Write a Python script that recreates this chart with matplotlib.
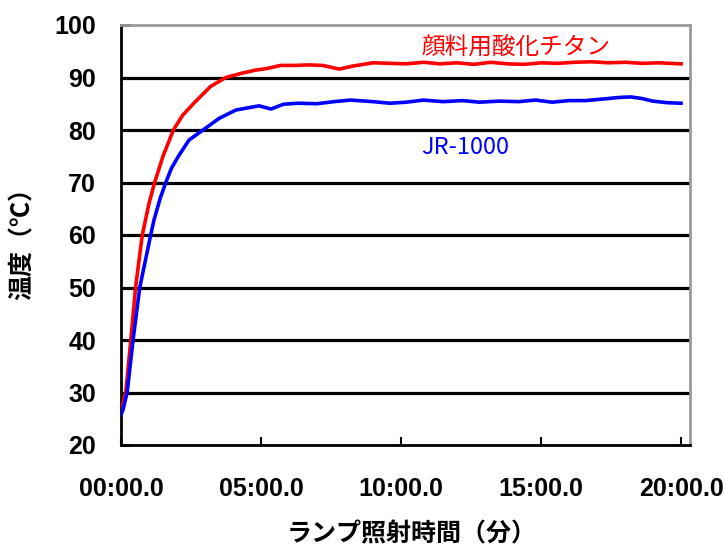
import matplotlib.pyplot as plt

# 経過時間(分)と温度(℃)
t_red = [0, 0.08, 0.17, 0.35, 0.52, 0.76, 1.0, 1.2, 1.5, 1.87, 2.2, 2.6, 3.2, 3.74,
         4.3, 4.8, 5.2, 5.7, 6.2, 6.7, 7.2, 7.8, 8.3, 9.0, 9.6, 10.2, 10.8, 11.4, 12.0,
         12.6, 13.2, 13.8, 14.4, 15.0, 15.6, 16.2, 16.8, 17.4, 18.0, 18.6, 19.2, 20.0]
y_red = [27, 28.2, 30, 40, 50, 60, 66, 70, 75, 80, 82.8, 85.1, 88.3, 90,
         90.8, 91.4, 91.7, 92.3, 92.3, 92.4, 92.3, 91.6, 92.2, 92.8, 92.7, 92.6, 92.9, 92.6, 92.8,
         92.5, 92.9, 92.6, 92.5, 92.8, 92.7, 92.9, 93.0, 92.8, 92.9, 92.7, 92.8, 92.6]

t_blue = [0, 0.07, 0.22, 0.43, 0.67, 1.06, 1.18, 1.4, 1.6, 1.8, 2.05, 2.43, 2.93, 3.5,
          4.1, 4.93, 5.36, 5.8, 6.3, 7.0, 7.6, 8.2, 9.0, 9.6, 10.2, 10.8, 11.5, 12.2, 12.8,
          13.5, 14.2, 14.8, 15.4, 16.0, 16.6, 17.2, 17.8, 18.2, 18.6, 19.0, 19.5, 20.0]
y_blue = [25.7, 26.7, 30, 40, 50, 60, 62.9, 67, 70, 72.7, 75, 78.1, 80, 82.2,
          83.8, 84.6, 84.0, 84.9, 85.1, 85.0, 85.4, 85.7, 85.4, 85.1, 85.3, 85.7, 85.4, 85.6, 85.3,
          85.5, 85.4, 85.7, 85.3, 85.6, 85.6, 85.9, 86.2, 86.3, 86.0, 85.5, 85.2, 85.1]

xticks = [0, 5, 10, 15, 20]
xticklabels = ['00:00.0', '05:00.0', '10:00.0', '15:00.0', '20:00.0']
yticks = [20, 30, 40, 50, 60, 70, 80, 90, 100]

jp = ['Noto Sans CJK JP', 'DejaVu Sans']

fig = plt.figure(figsize=(7.24, 5.5), dpi=100)
ax = fig.add_axes([121/724, 105/550, 569/724, 420/550])

# 目盛線
for v in yticks[1:-1]:
    ax.axhline(v, color='black', lw=2.3, zorder=1)

ax.plot(t_red, y_red, color='#ff0000', lw=2.6, zorder=3)
ax.plot(t_blue, y_blue, color='#0000ff', lw=2.6, zorder=3)

ax.set_xlim(0, 20.32)
ax.set_ylim(20, 100)
ax.set_xticks(xticks)
ax.set_xticklabels(xticklabels)
ax.set_yticks(yticks)

for lab in ax.get_xticklabels() + ax.get_yticklabels():
    lab.set_family('Liberation Sans')
    lab.set_fontweight('bold')
    lab.set_fontsize(18)

ax.tick_params(axis='x', direction='in', length=6, width=1.5, pad=23)
ax.tick_params(axis='y', direction='in', length=7, width=2, pad=18)

for s in ['left', 'bottom']:
    ax.spines[s].set_color('black')
    ax.spines[s].set_linewidth(2)
for s in ['top', 'right']:
    ax.spines[s].set_color('#999999')
    ax.spines[s].set_linewidth(2)

ax.text(14.1, 95.8, '顔料用酸化チタン', color='#ff0000', fontsize=17,
        family=jp, ha='center', va='center')
ax.text(12.3, 76.6, 'JR-1000', color='#0000ff', fontsize=17,
        family=jp, ha='center', va='center')

fig.text(412/724, 1 - 534/550, 'ランプ照射時間（分）', fontsize=18, fontweight='bold',
         family=jp, ha='center', va='center')
fig.text(23/724, 1 - 237/550, '温度（℃）', fontsize=18, fontweight='bold',
         family=jp, ha='center', va='center', rotation=90)

fig.savefig('out.png', dpi=100)
